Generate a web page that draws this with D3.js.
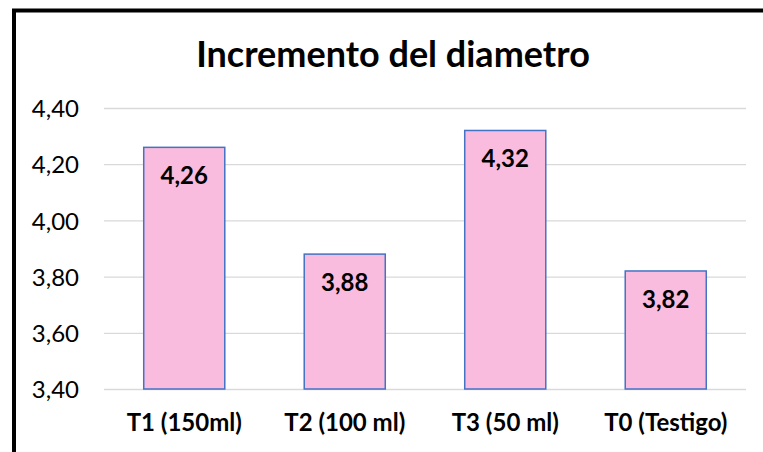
<!DOCTYPE html>
<html>
<head>
<meta charset="utf-8">
<script src="https://cdn.jsdelivr.net/npm/d3@7"></script>
<style>
  html, body { margin: 0; padding: 0; background: #fff; }
  svg { display: block; font-family: Lato, 'Open Sans', sans-serif; }
</style>
</head>
<body>
<div id="chart"></div>
<script>
const categories = ['T1 (150ml)', 'T2 (100 ml)', 'T3 (50 ml)', 'T0 (Testigo)'];
const values = [4.26, 3.88, 4.32, 3.82];
const yTicks = [3.4, 3.6, 3.8, 4.0, 4.2, 4.4];
const title = 'Incremento del diametro';

const width = 763;
const height = 452;
const margins = { top: 108, right: 17, bottom: 63, left: 104 };
const graphWidth = width - margins.left - margins.right;
const graphHeight = height - margins.top - margins.bottom;

const esLocale = d3.formatLocale({ decimal: ',', thousands: '.', grouping: [3], currency: ['', '€'] });
const fmt = esLocale.format('.2f');

const svg = d3
  .select('#chart')
  .append('svg')
  .attr('width', width)
  .attr('height', height);

// chart frame (only top and left edges show in the picture)
svg.append('rect')
  .attr('x', 14)
  .attr('y', 10.5)
  .attr('width', width + 20)
  .attr('height', height + 20)
  .attr('fill', 'none')
  .attr('stroke', '#000')
  .attr('stroke-width', 4);

svg.append('text')
  .attr('x', 393)
  .attr('y', 67)
  .attr('text-anchor', 'middle')
  .attr('font-size', 36)
  .attr('font-weight', 'bold')
  .attr('fill', '#000')
  .text(title);

const graph = svg
  .append('g')
  .attr('transform', `translate(${margins.left}, ${margins.top})`);

const x = d3.scaleBand().domain(categories).range([0, graphWidth]).paddingInner(0.495).paddingOuter(0.2475);
const y = d3.scaleLinear().domain([3.4, 4.4]).range([graphHeight, 0]);

const yAxis = d3.axisLeft(y)
  .tickValues(yTicks)
  .tickSize(-graphWidth)
  .tickPadding(25)
  .tickFormat(fmt);

const yAxisGroup = graph.append('g').call(yAxis);
yAxisGroup.select('.domain').remove();
yAxisGroup.selectAll('line').attr('stroke', '#d9d9d9').attr('stroke-width', 1.3);
yAxisGroup.selectAll('text')
  .attr('font-size', 24)
  .attr('fill', '#000')
  .attr('font-family', 'Lato, sans-serif')
  .attr('dy', '0.36em');

const xAxis = d3.axisBottom(x).tickSize(0).tickPadding(25);
const xAxisGroup = graph.append('g')
  .attr('transform', `translate(0, ${graphHeight})`)
  .call(xAxis);
xAxisGroup.select('.domain').remove();
xAxisGroup.selectAll('text')
  .attr('font-size', 24)
  .attr('font-weight', 'bold')
  .attr('fill', '#000')
  .attr('font-family', 'Lato, sans-serif');

graph.selectAll('rect.bar')
  .data(values)
  .enter()
  .append('rect')
  .attr('class', 'bar')
  .attr('x', (d, i) => x(categories[i]))
  .attr('y', (d) => y(d))
  .attr('width', x.bandwidth())
  .attr('height', (d) => graphHeight - y(d))
  .attr('fill', '#f9bbde')
  .attr('stroke', '#4472c4')
  .attr('stroke-width', 1.5);

graph.selectAll('text.val')
  .data(values)
  .enter()
  .append('text')
  .attr('class', 'val')
  .attr('x', (d, i) => x(categories[i]) + x.bandwidth() / 2)
  .attr('y', (d) => y(d) + 37)
  .attr('text-anchor', 'middle')
  .attr('font-size', 24)
  .attr('font-weight', 'bold')
  .attr('fill', '#000')
  .text((d) => fmt(d));
</script>
</body>
</html>
